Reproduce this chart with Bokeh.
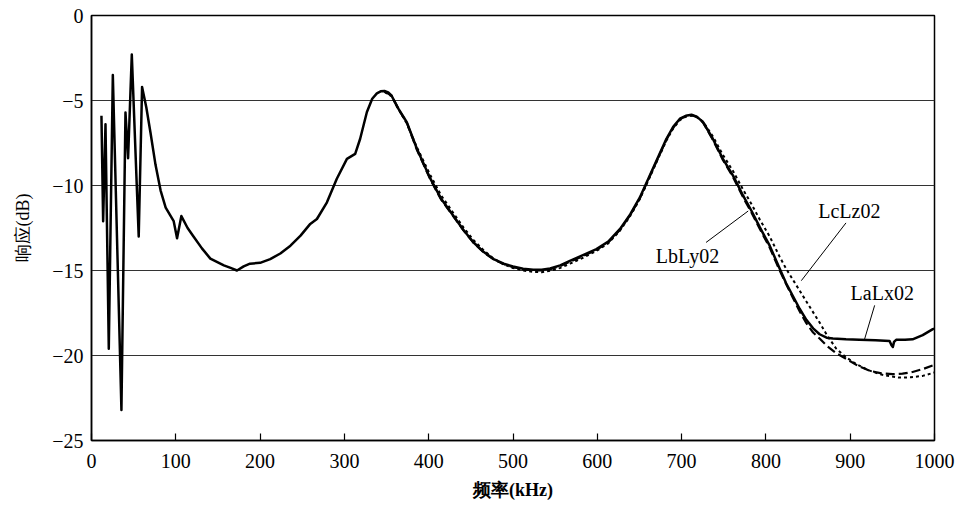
from bokeh.plotting import figure
from bokeh.models import ColumnDataSource, FixedTicker, Range1d
from bokeh.core.properties import value
from bokeh.embed import file_html
from bokeh.resources import INLINE

# Frequency response of the three sensor pairs (kHz, dB)
freq_a = [11.8, 13.8, 16.6, 20.5, 25.3, 35.5, 40.3, 43.4, 47.8, 56, 60, 65, 70, 76, 82, 88,
          97.5, 101.5, 106.6, 114, 121, 131, 141, 157, 165, 172.6, 180.5, 188, 200, 212, 224,
          236, 248, 259.5, 267.4, 279.3, 291, 303, 312.8, 318.7, 326.7, 333, 338.5, 343,
          347.5, 352, 356, 364, 374, 386, 402, 415, 429, 441, 453, 465, 477, 489, 500, 512,
          524, 534, 544, 556, 567.5, 583, 599, 613, 627, 639, 650.5, 666, 682, 690, 698, 705,
          711.7, 718, 725.5, 737, 749, 761, 773, 783, 792.7, 804.5, 816.4, 824, 832, 840,
          848, 856, 863.7, 872, 879.5, 895, 911, 930, 946.7, 949, 950.6, 952, 954.5, 965,
          974, 986, 998, 1000]
resp_a = [-5.9, -12.1, -6.4, -19.6, -3.5, -23.2, -5.7, -8.4, -2.3, -13.0, -4.2, -5.4, -6.9,
          -8.8, -10.3, -11.3, -12.1, -13.1, -11.8, -12.5, -13.0, -13.7, -14.3, -14.7, -14.85,
          -15.0, -14.76, -14.6, -14.55, -14.33, -14.0, -13.54, -12.95, -12.26, -11.97, -10.99,
          -9.6, -8.43, -8.14, -7.25, -5.68, -4.9, -4.58, -4.46, -4.44, -4.52, -4.72, -5.48,
          -6.27, -7.84, -9.6, -10.8, -11.77, -12.6, -13.34, -13.9, -14.33, -14.6, -14.76,
          -14.9, -14.96, -14.95, -14.88, -14.7, -14.43, -14.1, -13.74, -13.3, -12.55, -11.7,
          -10.7, -9.0, -7.25, -6.55, -6.07, -5.9, -5.84, -5.95, -6.27, -7.25, -8.43, -9.42,
          -10.6, -11.5, -12.45, -13.54, -14.9, -15.75, -16.5, -17.25, -17.9, -18.4, -18.75,
          -18.95, -19.0, -19.05, -19.08, -19.1, -19.14, -19.4, -19.5, -19.2, -19.08, -19.07,
          -19.05, -18.8, -18.45, -18.42]

freq_b = [347.5, 356, 364, 374, 386, 402, 415, 429, 441, 453, 465, 477, 489, 500, 512, 524,
          534, 544, 556, 567.5, 583, 599, 613, 627, 639, 650.5, 666, 682, 690, 698, 705, 711.7,
          718, 725.5, 737, 749, 761, 773, 783, 792.7, 804.5, 816.4, 824, 832, 840, 848, 856,
          863.7, 871.6, 883, 895.3, 909, 923, 937, 950.6, 962, 974, 986, 1000]
resp_b = [-4.46, -4.72, -5.5, -6.3, -7.9, -9.65, -10.85, -11.8, -12.62, -13.36, -13.92,
          -14.35, -14.62, -14.8, -14.93, -15.0, -15.0, -14.92, -14.74, -14.48, -14.15, -13.78,
          -13.35, -12.6, -11.75, -10.75, -9.05, -7.3, -6.6, -6.1, -5.92, -5.86, -5.97, -6.3,
          -7.3, -8.5, -9.5, -10.7, -11.6, -12.55, -13.65, -15.0, -15.8, -16.6, -17.4, -18.1,
          -18.65, -19.0, -19.4, -19.85, -20.2, -20.6, -20.9, -21.05, -21.1, -21.07, -20.97,
          -20.8, -20.55]

freq_c = [347.5, 356, 364, 374, 386, 402, 415, 429, 441, 453, 465, 477, 489, 500, 512, 524,
          534, 544, 556, 567.5, 583, 599, 613, 627, 639, 650.5, 666, 682, 690, 698, 705, 712,
          718, 725.5, 737, 749, 761, 773, 783, 792.7, 804.5, 816.4, 824, 834, 844, 854, 863.7,
          873, 883.5, 895, 907, 921, 935, 947, 958.5, 972, 986, 1000]
resp_c = [-4.5, -4.75, -5.5, -6.35, -7.75, -9.4, -10.6, -11.6, -12.45, -13.2, -13.8, -14.3,
          -14.65, -14.85, -15.0, -15.08, -15.1, -15.02, -14.85, -14.6, -14.25, -13.85, -13.4,
          -12.65, -11.8, -10.8, -9.1, -7.35, -6.65, -6.15, -5.95, -5.88, -5.97, -6.25, -7.1,
          -8.2, -9.15, -10.25, -11.1, -12.0, -13.0, -14.2, -14.9, -15.7, -16.5, -17.3, -18.06,
          -18.85, -19.6, -20.1, -20.5, -20.85, -21.1, -21.22, -21.3, -21.28, -21.2, -21.0]

# Curve labels and their leader lines
label_names = ["LbLy02", "LcLz02", "LaLx02"]
label_x = [707, 899, 938]
label_y = [-14.15, -11.5, -16.3]
leader_x0 = [729, 895, 929]
leader_y0 = [-13.35, -12.2, -17.05]
leader_x1 = [779, 842, 917]
leader_y1 = [-11.5, -15.6, -19.05]

x_ticks = [0, 100, 200, 300, 400, 500, 600, 700, 800, 900, 1000]
y_ticks = [0, -5, -10, -15, -20, -25]

SERIF = "Liberation Serif"

p = figure(width=959, height=507, output_backend="svg", toolbar_location=None,
           x_range=Range1d(0, 1000), y_range=Range1d(-25, 0),
           min_border_left=91, min_border_right=25, min_border_top=15, min_border_bottom=67)
p.background_fill_color = "white"
p.border_fill_color = "white"
p.outline_line_color = "black"
p.outline_line_width = 1.5

p.xgrid.grid_line_color = None
p.ygrid.grid_line_color = "#333333"
p.ygrid.grid_line_width = 1.2
p.ygrid.ticker = FixedTicker(ticks=[-5, -10, -15, -20])

p.xaxis.ticker = FixedTicker(ticks=x_ticks)
p.yaxis.ticker = FixedTicker(ticks=y_ticks)
p.yaxis.major_label_overrides = {t: (str(t).replace("-", "\u2212")) for t in y_ticks}

for ax in (p.xaxis[0], p.yaxis[0]):
    ax.axis_line_color = "black"
    ax.axis_line_width = 1.5
    ax.major_tick_in = 7
    ax.major_tick_out = 0
    ax.major_tick_line_color = "black"
    ax.major_tick_line_width = 1.2
    ax.minor_tick_line_color = None
    ax.major_label_text_font = SERIF
    ax.major_label_text_font_size = "20px"
    ax.major_label_text_color = "black"
    ax.axis_label_text_font = SERIF
    ax.axis_label_text_font_size = "18px"
    ax.axis_label_text_color = "black"

p.yaxis.major_tick_in = 0
p.xaxis.axis_label = "频率(kHz)"
p.xaxis.axis_label_text_font_style = "bold"
p.xaxis.axis_label_standoff = 9
p.yaxis.axis_label = "响应(dB)"
p.yaxis.axis_label_text_font_style = "normal"
p.yaxis.axis_label_standoff = 16
p.xaxis.major_label_standoff = 13
p.yaxis.major_label_standoff = 8

p.line(freq_c, resp_c, line_color="black", line_width=2, line_dash="3 3")
p.line(freq_b, resp_b, line_color="black", line_width=2.2, line_dash="9 4",
       line_join="round")
p.line(freq_a, resp_a, line_color="black", line_width=2.5, line_join="round")

p.segment(x0=leader_x0, y0=leader_y0, x1=leader_x1, y1=leader_y1,
          line_color="black", line_width=1)

src = ColumnDataSource(dict(x=label_x, y=label_y, t=label_names))
p.text(x="x", y="y", text="t", source=src, text_align="center", text_baseline="middle",
       text_font=value(SERIF), text_font_size="20px", text_color="black")

open("out.html", "w").write(file_html(p, INLINE))
